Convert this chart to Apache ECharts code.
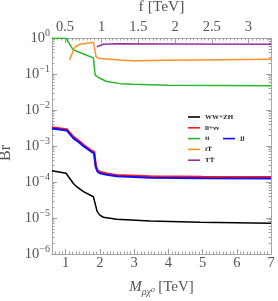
<!DOCTYPE html>
<html><head><meta charset="utf-8">
<script src="https://cdn.jsdelivr.net/npm/echarts@6/dist/echarts.min.js"></script>
<style>html,body{margin:0;padding:0;background:#fff}#c{width:278px;height:301px}</style>
</head><body><div id="c"></div>
<script>
// Data (M in TeV, branching ratios)
const mWZ  = [0.6, 1.01, 1.22, 1.32, 1.52, 1.81, 1.86, 1.92, 2.0, 2.1, 2.49, 3.47, 4.93, 7.0];
const brWZ = [2.05e-4, 1.75e-4, 9.2e-5, 7.4e-5, 5.4e-5, 3.9e-5, 3.7e-5, 1.5e-5, 1.2e-5, 1.05e-5, 9.2e-6, 8.3e-6, 7.6e-6, 7.1e-6];
const mLL  = [0.6, 1.03, 1.22, 1.42, 1.52, 1.76, 1.83, 1.88, 1.93, 2.0, 2.2, 2.49, 3.47, 5.0, 7.0];
const brLL = [3.3e-3, 2.9e-3, 1.8e-3, 1.3e-3, 1.07e-3, 7.3e-4, 6.8e-4, 2.8e-4, 2.1e-4, 1.9e-4, 1.7e-4, 1.55e-4, 1.42e-4, 1.38e-4, 1.35e-4];
const brJJ = [3.05e-3, 2.7e-3, 1.66e-3, 1.2e-3, 9.9e-4, 6.8e-4, 6.3e-4, 2.6e-4, 1.95e-4, 1.76e-4, 1.58e-4, 1.44e-4, 1.32e-4, 1.28e-4, 1.25e-4];
const mTt  = [0.6, 1.01, 1.22, 1.52, 1.81, 1.86, 2.0, 2.2, 2.59, 2.97, 4.0, 7.0];
const brTt = [0.98, 0.98, 0.47, 0.36, 0.28, 0.093, 0.076, 0.062, 0.054, 0.052, 0.049, 0.047];
const mTT1 = [1.11, 1.27, 1.42, 1.81, 1.89, 2.0, 2.59, 2.97, 4.0, 7.0];
const brTT1= [0.245, 0.57, 0.67, 0.76, 0.30, 0.27, 0.245, 0.235, 0.24, 0.256];
const mTT2 = [1.91, 2.1, 2.49, 4.0, 7.0];
const brTT2= [0.57, 0.67, 0.69, 0.68, 0.67];

const names = ['WW+ZH', 'll+νν', 'tt', 'tT̄', 'TT̄', 'jj'];
const mTicks = [1, 2, 3, 4, 5, 6, 7];
const fTicks = [0.5, 1, 1.5, 2, 2.5, 3];
const yExp = [-6, -5, -4, -3, -2, -1, 0];

const mRange = [0.6, 7.0];
const fRange = [0.323, 3.307];

const zip = (xs, ys) => xs.map((x, i) => [x, ys[i]]);
const r = v => Math.round(v * 1000) / 1000;
const mMinor = []; for (let v = 6; v <= 70; v++) mMinor.push(r(v / 10));
const fMinor = []; for (let v = 7; v <= 66; v++) fMinor.push(r(v / 20));
const yMinor = []; for (let e = -6; e < 0; e++) for (let k = 2; k <= 9; k++) yMinor.push(r(e + Math.log10(k)));

const gray = '#a8a8a8';
const tickCol = '#a0a0a0';
const lblColor = '#555';
const serif = '"Liberation Serif","DejaVu Serif",serif';

function tickAxis(base, vals, len, pos) {
  return Object.assign({}, base, {
    position: pos, axisLine: {show: false, onZero: false}, splitLine: {show: false},
    axisLabel: {show: false},
    axisTick: {show: true, inside: true, length: len, customValues: vals, lineStyle: {color: tickCol, width: 1}}
  });
}

const xMainBase = {type: 'value', min: mRange[0], max: mRange[1], gridIndex: 0};
const fBase = {type: 'value', min: fRange[0], max: fRange[1], gridIndex: 0};
const yLinBase = {type: 'value', min: -6, max: 0, gridIndex: 0};

const legendText = {fontFamily: serif, fontWeight: 'bold', fontSize: 7, color: '#222', lineHeight: 10};

const option = {
  animation: false,
  backgroundColor: '#fff',
  grid: {left: 52, right: 7, top: 38, bottom: 47, containLabel: false, outerBoundsMode: 'none'},
  legend: [{
    data: names.slice(0, 5), orient: 'vertical', left: 183, top: 107,
    icon: 'rect', itemWidth: 12, itemHeight: 1.6, itemGap: 0.8,
    textStyle: legendText, selectedMode: false
  }, {
    data: ['jj'], orient: 'vertical', left: 218, top: 128.6,
    icon: 'rect', itemWidth: 12, itemHeight: 1.6,
    textStyle: legendText, selectedMode: false
  }],
  xAxis: [
    Object.assign({}, xMainBase, {
      position: 'bottom',
      axisLine: {show: true, onZero: false, lineStyle: {color: gray, width: 1}},
      splitLine: {show: false},
      axisTick: {show: true, inside: true, length: 5, customValues: mTicks, lineStyle: {color: tickCol, width: 1}},
      axisLabel: {customValues: mTicks, margin: 2, fontFamily: serif, fontSize: 14.5, color: lblColor},
      name: '{i|M}{s|ρχ⁰} {n|[TeV]}', nameLocation: 'middle', nameGap: 24,
      nameTextStyle: {rich: {
        i: {fontFamily: serif, fontStyle: 'italic', fontSize: 15, color: lblColor},
        s: {fontFamily: serif, fontStyle: 'italic', fontSize: 10, color: lblColor, padding: [9, 0, 0, 0]},
        n: {fontFamily: serif, fontSize: 15, color: lblColor}
      }}
    }),
    tickAxis(xMainBase, mMinor, 2.5, 'bottom'),
    Object.assign({}, fBase, {
      position: 'top',
      axisLine: {show: true, onZero: false, lineStyle: {color: gray, width: 1}},
      splitLine: {show: false},
      axisTick: {show: true, inside: true, length: 5, customValues: fTicks, lineStyle: {color: tickCol, width: 1}},
      axisLabel: {customValues: fTicks, margin: 3, fontFamily: serif, fontSize: 14.5, color: lblColor},
      name: 'f [TeV]', nameLocation: 'middle', nameGap: 22,
      nameTextStyle: {fontFamily: serif, fontSize: 15.5, color: lblColor}
    }),
    tickAxis(fBase, fMinor, 2.5, 'top')
  ],
  yAxis: [
    {
      type: 'log', logBase: 10, min: 1e-6, max: 1, position: 'left', gridIndex: 0,
      axisLine: {show: true, onZero: false, lineStyle: {color: gray, width: 1}},
      splitLine: {show: false}, minorTick: {show: false},
      axisTick: {show: true, inside: true, length: 5, lineStyle: {color: tickCol, width: 1}},
      axisLabel: {
        margin: 2,
        formatter: v => '{b|10}{s|' + String(Math.round(Math.log10(v))).replace('-', '−') + '}',
        rich: {
          b: {fontFamily: serif, fontSize: 14.5, color: lblColor},
          s: {fontFamily: serif, fontSize: 10, color: lblColor, padding: [0, 0, 10, 0]}
        }
      },
      name: 'Br', nameLocation: 'middle', nameGap: 38, nameRotate: 90,
      nameTextStyle: {fontFamily: serif, fontSize: 16, color: lblColor, padding: [0, 0, 0, -14]}
    },
    tickAxis(yLinBase, yMinor, 2.5, 'left'),
    Object.assign({}, yLinBase, {
      position: 'right', axisLine: {show: true, onZero: false, lineStyle: {color: gray, width: 1}},
      splitLine: {show: false}, axisLabel: {show: false},
      axisTick: {show: true, inside: true, length: 5, customValues: yExp, lineStyle: {color: tickCol, width: 1}}
    }),
    tickAxis(yLinBase, yMinor, 2.5, 'right')
  ],
  series: [
    {name: 'WW+ZH', type: 'line', data: zip(mWZ, brWZ), color: '#000000'},
    {name: 'll+νν', type: 'line', data: zip(mLL, brLL), color: '#ff1a1a', lineStyle: {width: 2.4}},
    {name: 'tt', type: 'line', data: zip(mTt, brTt), color: '#2db52d'},
    {name: 'tT̄', type: 'line', data: zip(mTT1, brTT1), color: '#ff9227'},
    {name: 'TT̄', type: 'line', data: zip(mTT2, brTT2), color: '#952f9e'},
    {name: 'jj', type: 'line', data: zip(mLL, brJJ), color: '#1010ff', lineStyle: {width: 2}}
  ].map(s => Object.assign({xAxisIndex: 0, yAxisIndex: 0, showSymbol: false, symbol: 'none', smooth: false}, s,
    {lineStyle: Object.assign({width: 1.5}, s.lineStyle || {})}))
};

const chart = echarts.init(document.getElementById('c'), null, {renderer: 'canvas'});
chart.setOption(option);
</script>
</body></html>
